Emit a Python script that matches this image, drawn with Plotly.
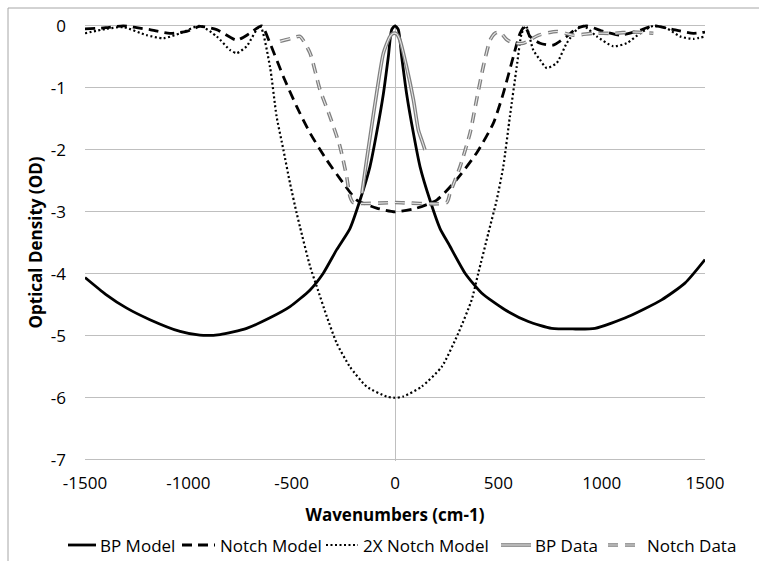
import plotly.graph_objects as go

# ---------------- data ----------------
bp_model_x = [-1500, -1400, -1300, -1186, -1040, -944, -847, -718, -605, -508, -411, -347, -282, -218,
              -169, -121, -89, -56, -32, -16, 0, 16, 32, 56, 89, 121, 169, 218, 260, 339, 419, 532,
              645, 758, 860, 968, 1129, 1290, 1403, 1500]
bp_model_y = [-4.06, -4.33, -4.55, -4.74, -4.93, -4.99, -4.98, -4.88, -4.71, -4.53, -4.26, -3.99, -3.61, -3.27,
              -2.81, -2.27, -1.73, -1.09, -0.49, -0.06, 0.0, -0.06, -0.49, -1.09, -1.73, -2.27, -2.81, -3.27, -3.52, -3.99, -4.31, -4.58,
              -4.77, -4.88, -4.89, -4.88, -4.69, -4.42, -4.15, -3.77]

notch_model_x = [-1500, -1400, -1315, -1250, -1186, -1089, -1008, -944, -863, -766, -702, -645, -605, -540,
                 -476, -411, -331, -250, -185, -89, 0, 105, 202, 298, 395, 476, 524, 573, 605, 629, 653,
                 702, 766, 831, 879, 927, 1008, 1089, 1169, 1250, 1347, 1444, 1500]
notch_model_y = [-0.05, -0.03, 0.0, -0.03, -0.06, -0.12, -0.09, -0.01, -0.06, -0.23, -0.12, 0.0, -0.28, -0.82,
                 -1.3, -1.73, -2.16, -2.54, -2.81, -2.94, -3.0, -2.94, -2.81, -2.48, -2.05, -1.57, -1.09, -0.49, -0.12, 0.0, -0.17,
                 -0.28, -0.31, -0.17, -0.04, 0.0, -0.09, -0.15, -0.09, 0.0, -0.06, -0.12, -0.1]

notch2x_x = [-1500, -1400, -1315, -1202, -1121, -1040, -944, -863, -798, -766, -718, -653, -605, -573, -540,
             -508, -476, -460, -411, -379, -330, -282, -218, -137, -40, 0, 40, 129, 226, 306, 371, 403,
             452, 492, 524, 556, 589, 613, 634, 669, 702, 734, 782, 831, 879, 911, 976, 1056, 1121, 1186,
             1250, 1315, 1379, 1444, 1500]
notch2x_y = [-0.12, -0.05, -0.02, -0.15, -0.2, -0.12, 0.0, -0.17, -0.39, -0.44, -0.33, 0.0, -0.66, -1.46, -2.0,
             -2.54, -3.02, -3.24, -3.88, -4.2, -4.69, -5.12, -5.5, -5.82, -5.98, -6.0, -5.98, -5.82, -5.5, -4.96, -4.42, -3.99,
             -3.34, -2.81, -2.27, -1.46, -0.66, -0.12, 0.0, -0.39, -0.55, -0.68, -0.6, -0.28, -0.06, 0.0, -0.17, -0.33, -0.28, -0.12,
             0.0, -0.04, -0.17, -0.21, -0.17]

bp_data_x = [-160, -137, -121, -89, -56, -24, -8, 8, 24, 56, 89, 113, 130, 145]
bp_data_y = [-2.7, -2.16, -1.8, -1.09, -0.44, -0.17, -0.12, -0.13, -0.23, -0.66, -1.19, -1.68, -1.85, -2.0]

notch_data_x = [-556, -500, -460, -411, -363, -315, -266, -234, -218, -202, 0, 250, 266, 315, 363, 395,
                427, 460, 484, 508, 540, 573, 621, 695, 782, 863, 960, 1056, 1150, 1250]
notch_data_y = [-0.25, -0.2, -0.17, -0.44, -1.03, -1.46, -1.95, -2.43, -2.75, -2.85, -2.85, -2.85, -2.7, -2.27, -1.73, -1.19,
                -0.66, -0.23, -0.12, -0.1, -0.22, -0.28, -0.28, -0.15, -0.09, -0.15, -0.12, -0.12, -0.1, -0.12]

series_names = ["BP Model", "Notch Model", "2X Notch Model", "BP Data", "Notch Data"]
x_ticks = [-1500, -1000, -500, 0, 500, 1000, 1500]
y_ticks = [0, -1, -2, -3, -4, -5, -6, -7]

# ---------------- styling ----------------
FONT = "Open Sans"
FS = 17
GRID = "#bfbfbf"
W, H = 759, 561
ML, MR, MT, MB = 85, 54, 24, 100
PW, PH = W - ML - MR, H - MT - MB

styles = [
    dict(color="black", width=2.8),
    dict(color="black", width=2.8, dash="10px,6px"),
    dict(color="black", width=2.2, dash="2px,2.5px"),
    dict(color="#7f7f7f", width=3.6),
    dict(color="#7f7f7f", width=3.6, dash="10px,7px"),
]
inner = dict(color="#e6e6e6", width=1.1)
series = [(bp_model_x, bp_model_y), (notch_model_x, notch_model_y), (notch2x_x, notch2x_y),
          (bp_data_x, bp_data_y), (notch_data_x, notch_data_y)]

fig = go.Figure()
for i, ((xs, ys), name, st) in enumerate(zip(series, series_names, styles)):
    fig.add_trace(go.Scatter(x=xs, y=ys, mode="lines", name=name, showlegend=False,
                             line=dict(shape="spline", smoothing=0.6, **st)))
    if i >= 3:  # double (hollow) line for the measured data
        d = dict(inner)
        if "dash" in st:
            d["dash"] = st["dash"]
        fig.add_trace(go.Scatter(x=xs, y=ys, mode="lines", showlegend=False, hoverinfo="skip",
                                 line=dict(shape="spline", smoothing=0.6, **d)))


def px2x(p):
    return (p - ML) / PW


def py2y(p):
    return (H - MB - p) / PH


# manual one-row legend (symbol start, symbol end, text start) in pixels
leg_pos = [(68, 96, 98), (182, 215, 218), (326, 358, 361), (501, 531, 533), (608, 642, 645)]
LEG_Y = 545
shapes = []
annotations = []
for (s0, s1, t0), name, st in zip(leg_pos, series_names, styles):
    shapes.append(dict(type="line", xref="paper", yref="paper", x0=px2x(s0), x1=px2x(s1),
                       y0=py2y(LEG_Y), y1=py2y(LEG_Y), line=st))
    if name in ("BP Data", "Notch Data"):
        d = dict(inner)
        if "dash" in st:
            d["dash"] = st["dash"]
        shapes.append(dict(type="line", xref="paper", yref="paper", x0=px2x(s0), x1=px2x(s1),
                           y0=py2y(LEG_Y), y1=py2y(LEG_Y), line=d))
    annotations.append(dict(text=name, xref="paper", yref="paper", x=px2x(t0), y=py2y(LEG_Y),
                            xanchor="left", yanchor="middle", showarrow=False,
                            font=dict(family=FONT, size=FS, color="black")))

# chart-area border
shapes.append(dict(type="rect", xref="paper", yref="paper",
                   x0=px2x(8), x1=1.3, y0=-0.4, y1=py2y(8),
                   line=dict(color="#a6a6a6", width=1), fillcolor="rgba(0,0,0,0)", layer="below"))

fig.update_layout(
    width=W, height=H,
    margin=dict(l=ML, r=MR, t=MT, b=MB, autoexpand=False),
    paper_bgcolor="white", plot_bgcolor="white",
    font=dict(family=FONT, size=FS, color="black"),
    showlegend=False,
    xaxis=dict(range=[-1500, 1500], tickvals=x_ticks, ticktext=[str(v) for v in x_ticks],
               showgrid=False, zeroline=True, zerolinecolor=GRID, zerolinewidth=1,
               showline=False, ticks="", ticklabelstandoff=10, automargin=False,
               tickfont=dict(family=FONT, size=FS, color="black"),
               title=dict(text="<b>Wavenumbers (cm-1)</b>", standoff=16,
                          font=dict(family=FONT, size=FS, color="black"))),
    yaxis=dict(range=[-7.02, 0.03], tickvals=y_ticks, ticktext=[str(v) for v in y_ticks],
               showgrid=True, gridcolor=GRID, gridwidth=1,
               zeroline=True, zerolinecolor=GRID, zerolinewidth=1,
               showline=False, ticks="", ticklabelstandoff=18, automargin=False,
               tickfont=dict(family=FONT, size=FS, color="black"),
               title=dict(text="<b>Optical Density (OD)</b>", standoff=3,
                          font=dict(family=FONT, size=FS, color="black"))),
    shapes=shapes,
    annotations=annotations,
)

fig.write_html("out.html", config={"displayModeBar": False},
               post_script="document.body.style.margin='0';document.body.style.overflow='hidden';")
